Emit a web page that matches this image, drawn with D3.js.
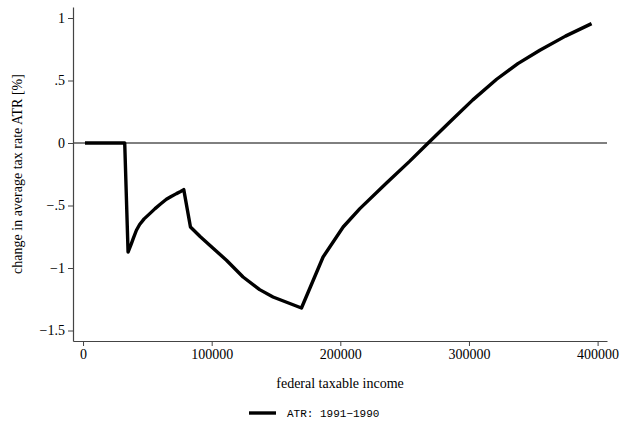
<!DOCTYPE html>
<html>
<head>
<meta charset="utf-8">
<script src="https://cdn.jsdelivr.net/npm/d3@7"></script>
<style>
  html, body { margin: 0; padding: 0; background: #fff; }
  svg { display: block; }
</style>
</head>
<body>
<svg id="chart" width="623" height="425"></svg>
<script>
// Change in average tax rate (ATR), 1991 vs 1990, by federal taxable income
const income = [1500, 32400, 35000, 37600, 39000, 41500, 44000, 47500, 51900, 56000,
                60000, 64800, 68500, 72600, 75500, 78300,
                83500, 91000, 98500, 111500, 124400, 137300, 147700, 169800,
                186600, 202200, 215200, 235900, 254000, 268300, 286500, 303000,
                321500, 338000, 355100, 375000, 395300];
const atrChange = [0, 0, -0.872, -0.805, -0.765, -0.698, -0.652, -0.607, -0.565, -0.525,
                   -0.49, -0.45, -0.428, -0.405, -0.39, -0.373,
                   -0.672, -0.748, -0.818, -0.938, -1.072, -1.173, -1.232, -1.32,
                   -0.912, -0.672, -0.525, -0.32, -0.145, 0, 0.182, 0.345,
                   0.51, 0.635, 0.742, 0.855, 0.955];

const xTickValues = [0, 100000, 200000, 300000, 400000];
const xTickLabels = ["0", "100000", "200000", "300000", "400000"];
const yTickValues = [1, 0.5, 0, -0.5, -1, -1.5];
const yTickLabels = ["1", ".5", "0", "\u2212.5", "\u22121", "\u22121.5"];

const seriesName = "ATR: 1991\u22121990";
const xTitle = "federal taxable income";
const yTitle = "change in average tax rate ATR [%]";

const serif = "'Liberation Serif', 'Times New Roman', serif";
const mono = "'Liberation Mono', 'DejaVu Sans Mono', monospace";

const svg = d3.select("#chart");
const plotL = 73, plotR = 607, plotT = 7, plotB = 341;

const x = d3.scaleLinear().domain([-7800, 407300]).range([plotL, plotR]);
const y = d3.scaleLinear().domain([-1.584, 1.088]).range([plotB, plotT]);

// zero reference line
svg.append("line")
  .attr("x1", plotL).attr("x2", plotR)
  .attr("y1", y(0)).attr("y2", y(0))
  .attr("stroke", "#000").attr("stroke-width", 1);

// axes
const xAxis = d3.axisBottom(x)
  .tickValues(xTickValues)
  .tickFormat((d, i) => xTickLabels[i])
  .tickSizeInner(5).tickSizeOuter(0).tickPadding(3);
const gx = svg.append("g").attr("transform", `translate(0,${plotB})`).call(xAxis);

const yAxis = d3.axisLeft(y)
  .tickValues(yTickValues)
  .tickFormat((d, i) => yTickLabels[i])
  .tickSizeInner(5).tickSizeOuter(0).tickPadding(3);
const gy = svg.append("g").attr("transform", `translate(${plotL},0)`).call(yAxis);

[gx, gy].forEach(g => {
  g.attr("font-family", serif).attr("font-size", 14);
  g.select(".domain").attr("stroke", "#444").attr("stroke-width", 1.2);
  g.selectAll(".tick line").attr("stroke", "#444").attr("stroke-width", 1);
  g.selectAll(".tick text").attr("fill", "#000");
});

// data line
const pts = income.map((v, i) => [v, atrChange[i]]);
svg.append("path")
  .datum(pts)
  .attr("fill", "none")
  .attr("stroke", "#000")
  .attr("stroke-width", 3.4)
  .attr("stroke-linejoin", "round")
  .attr("d", d3.line().x(d => x(d[0])).y(d => y(d[1])));

// axis titles
svg.append("text")
  .attr("x", (plotL + plotR) / 2).attr("y", 388)
  .attr("text-anchor", "middle")
  .style("font-family", serif)
  .style("font-size", "14px")
  .text(xTitle);

svg.append("text")
  .attr("transform", `translate(22,${(plotT + plotB) / 2}) rotate(-90)`)
  .attr("text-anchor", "middle")
  .style("font-family", serif)
  .style("font-size", "14px")
  .text(yTitle);

// legend
const lg = svg.append("g").attr("transform", "translate(249,413)");
lg.append("line")
  .attr("x1", 0).attr("x2", 27).attr("y1", 0).attr("y2", 0)
  .attr("stroke", "#000").attr("stroke-width", 3.4);
lg.append("text")
  .attr("x", 38).attr("y", 4)
  .style("font-family", mono)
  .style("font-size", "11px")
  .text(seriesName);
</script>
</body>
</html>
